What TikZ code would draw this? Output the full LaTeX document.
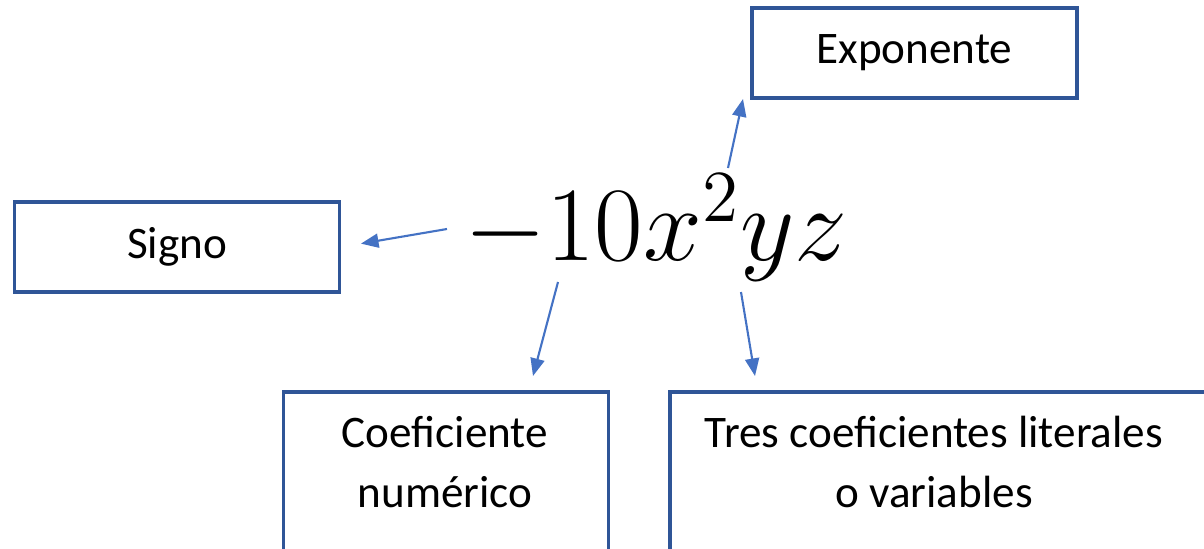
\documentclass[tikz,border=0pt]{standalone}
\usepackage{fontspec}
\setmainfont{Carlito}
\usepackage{xcolor}
\usepackage{tikz}
\usetikzlibrary{arrows.meta, positioning}
\definecolor{boxblue}{RGB}{47,85,151}
\definecolor{arrowblue}{RGB}{68,114,196}
\tikzset{
    termbox/.style = {rectangle, draw=boxblue, line width=2pt, minimum width=6.5cm, minimum height=1.8cm, inner sep=0pt},
    boxtext/.style = {align=center, font=\fontsize{25.7}{34}\selectfont, inner sep=0pt},
    conn/.style = {draw=arrowblue, line width=1.2pt, -{Triangle[length=10pt, width=8pt]}}
}
\begin{document}
\begin{tikzpicture}[x=0.02cm, y=-0.02cm]
\useasboundingbox (0,0) rectangle (1204,548);
\clip (0,0) rectangle (1204,548);

\node (expr) [anchor=base, font=\fontsize{20}{24}\selectfont, inner sep=0pt, scale=2.9] at (656,260) {$-10x^2yz$};

\node (expo) [termbox, boxtext] at (914.5,53) {Exponente};
\node (signo) [termbox, boxtext] at (177,247) {Signo};
\node (coef) [termbox, anchor=north, minimum height=4cm] at (446,390) {};
\node (coeftxt) [boxtext] at (445,462) {Coeficiente\\numérico};
\node (tres) [termbox, anchor=north west, minimum width=10.8cm, minimum height=4cm] at (668,390) {};
\node (trestxt) [boxtext] at (934,462) {Tres coeficientes literales\\o variables};

\coordinate (sigtail) at (447,229);
\coordinate (exptail) at (728,168);
\coordinate (exphead) at (743,99);
\coordinate (coeftail) at (558,282);
\coordinate (coefhead) at (533,376);
\coordinate (trestail) at (741,292);
\coordinate (treshead) at (755,376);

\draw [conn, shorten >=20*0.02cm] (sigtail) -- (signo.east);
\draw [conn] (exptail) -- (exphead);
\draw [conn] (coeftail) -- (coefhead);
\draw [conn] (trestail) -- (treshead);
\end{tikzpicture}
\end{document}
